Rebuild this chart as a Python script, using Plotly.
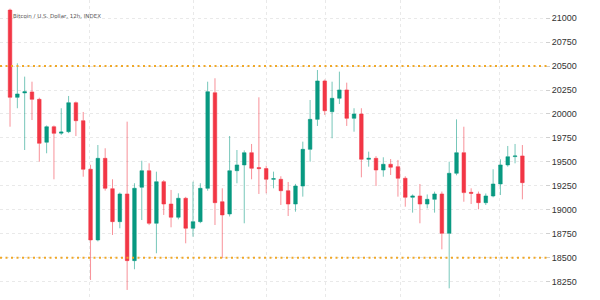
import plotly.graph_objects as go

title_text = "Bitcoin / U.S. Dollar, 12h, INDEX"

opens = [21085, 20174, 20220, 20230, 20153, 19705, 19867, 19800, 19815, 20118,
         19930, 19423, 18685, 19537, 19220, 18876, 19165, 18469, 19235, 19408,
         18859, 19293, 19060, 18922, 19120, 18807, 18876, 19224, 20222, 19084,
         18956, 19408, 19468, 19596, 19440, 19430, 19318, 19318, 19199, 19060,
         19248, 19631, 19944, 20345, 20024, 20164, 20251, 19955, 20000, 19527,
         19537, 19415, 19475, 19450, 19329, 19130, 19144, 19060, 19109, 19165,
         18754, 19381, 19596, 19182, 19165, 19074, 19144, 19269, 19468, 19555,
         19562]
highs = [21100, 20529, 20390, 20337, 20170, 19880, 19880, 20060, 20188, 20130,
         20021, 19470, 19676, 19642, 19318, 19180, 19920, 19277, 19512, 19485,
         19398, 19310, 19207, 19172, 19135, 19293, 19277, 20337, 20373, 19224,
         19770, 19624, 19620, 19687, 20174, 19460, 19398, 19350, 19290, 19270,
         19711, 20146, 20459, 20360, 20337, 20442, 20327, 20060, 20060, 19607,
         19560, 19548, 19530, 19520, 19350, 19160, 19269, 19160, 19189, 19190,
         19502, 19944, 19867, 19224, 19190, 19170, 19423, 19527, 19666, 19687,
         19676]
lows = [19867, 20060, 19624, 19937, 19502, 19590, 19318, 19780, 19800, 19770,
        19345, 18267, 18670, 19200, 18737, 18807, 18163, 18379, 18893, 18840,
        18546, 18946, 18817, 18900, 18650, 18719, 18860, 19199, 18841, 18494,
        18930, 19277, 18859, 19318, 19165, 19172, 19224, 19050, 18935, 18980,
        19137, 19502, 19875, 19990, 19746, 20104, 19875, 19815, 19339, 19450,
        19248, 19345, 19363, 19137, 19032, 18970, 18859, 19015, 18970, 18587,
        18180, 19360, 19084, 19060, 19005, 19050, 19130, 19154, 19450, 19485,
        19109]
closes = [20174, 20209, 20232, 20153, 19694, 19867, 19798, 19812, 20118, 19930,
          19423, 18685, 19537, 19224, 18876, 19165, 18469, 19224, 19408, 18859,
          19293, 19060, 18922, 19120, 18807, 18876, 19224, 20233, 19074, 18946,
          19408, 19468, 19596, 19433, 19430, 19318, 19325, 19199, 19060, 19248,
          19631, 19944, 20345, 20034, 20164, 20251, 19955, 20000, 19527, 19537,
          19415, 19475, 19444, 19329, 19130, 19144, 19060, 19109, 19165, 18754,
          19381, 19596, 19179, 19172, 19074, 19144, 19269, 19468, 19554, 19562,
          19283]

bars = list(range(len(opens)))
y_ticks = [18250, 18500, 18750, 19000, 19250, 19500, 19750, 20000, 20250, 20500, 20750, 21000]
x_grid = [10.9, 25, 35, 43.1, 53.3, 66.9]
levels = [20500, 18500]

fig = go.Figure(go.Candlestick(
    x=bars, open=opens, high=highs, low=lows, close=closes,
    increasing=dict(fillcolor="#089981", line=dict(color="rgba(8,153,129,0.55)", width=1)),
    decreasing=dict(fillcolor="#f23645", line=dict(color="rgba(242,54,69,0.55)", width=1)),
    whiskerwidth=0, hoverinfo="skip", showlegend=False,
))

for lv in levels:
    fig.add_shape(type="line", xref="paper", yref="y", x0=0, x1=1.008, y0=lv, y1=lv,
                  line=dict(color="#f0a828", width=2, dash="2px,3.5px"), layer="above")

fig.add_annotation(text=title_text, xref="paper", yref="paper", x=0.021, y=0.948,
                   xanchor="left", yanchor="middle", showarrow=False,
                   font=dict(size=5.5, color="#555555", family="DejaVu Sans"))

fig.update_layout(
    width=600, height=300,
    margin=dict(l=0, r=55, t=0, b=0),
    paper_bgcolor="white", plot_bgcolor="white",
    xaxis=dict(range=[-1.37, 73.09], rangeslider=dict(visible=False),
               tickvals=x_grid, showticklabels=False, ticks="",
               showgrid=True, gridcolor="#e9e9e9", griddash="3px,3px", gridwidth=1,
               zeroline=False, showline=False),
    yaxis=dict(range=[18058, 21190], side="right", tickvals=y_ticks, tickformat="d",
               showgrid=True, gridcolor="#e9e9e9", griddash="3px,3px", gridwidth=1,
               ticks="outside", ticklen=4, tickcolor="#d0d0d0",
               tickfont=dict(size=9, color="#333333", family="Liberation Sans"),
               zeroline=False, showline=False),
)

fig.write_html("out.html")
